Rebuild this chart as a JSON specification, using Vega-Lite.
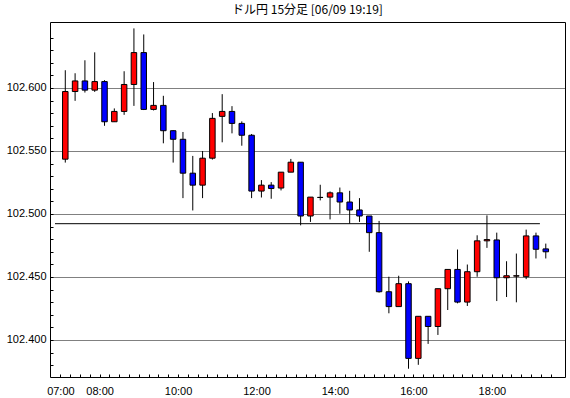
{
  "$schema": "https://vega.github.io/schema/vega-lite/v6.json",
  "width": 515,
  "height": 355,
  "autosize": "none",
  "padding": {"left": 50, "top": 22, "right": 5, "bottom": 21},
  "background": "white",
  "title": {"text": "ドル円 15分足 [06/09 19:19]", "font": "Noto Sans CJK JP", "fontSize": 12, "fontWeight": "normal", "color": "black", "anchor": "middle", "offset": 5},
  "config": {
    "view": {"stroke": "black", "strokeWidth": 1},
    "axis": {"labelFont": "Liberation Sans", "labelFontSize": 11, "labelColor": "black", "tickColor": "black", "domain": false}
  },
  "datasets": {
    "candles": [
      {"t": "2014-06-09T07:07:30", "o": 102.5435, "h": 102.6141, "l": 102.5408, "c": 102.5972},
      {"t": "2014-06-09T07:22:30", "o": 102.5972, "h": 102.6117, "l": 102.5898, "c": 102.6056},
      {"t": "2014-06-09T07:37:30", "o": 102.6056, "h": 102.6220, "l": 102.5964, "c": 102.5983},
      {"t": "2014-06-09T07:52:30", "o": 102.5983, "h": 102.6283, "l": 102.5969, "c": 102.6051},
      {"t": "2014-06-09T08:07:30", "o": 102.6051, "h": 102.6062, "l": 102.5700, "c": 102.5732},
      {"t": "2014-06-09T08:22:30", "o": 102.5732, "h": 102.5838, "l": 102.5732, "c": 102.5814},
      {"t": "2014-06-09T08:37:30", "o": 102.5814, "h": 102.6133, "l": 102.5787, "c": 102.6028},
      {"t": "2014-06-09T08:52:30", "o": 102.6028, "h": 102.6473, "l": 102.5858, "c": 102.6281},
      {"t": "2014-06-09T09:07:30", "o": 102.6281, "h": 102.6425, "l": 102.5825, "c": 102.5830},
      {"t": "2014-06-09T09:22:30", "o": 102.5830, "h": 102.6047, "l": 102.5822, "c": 102.5862},
      {"t": "2014-06-09T09:37:30", "o": 102.5862, "h": 102.5938, "l": 102.5561, "c": 102.5661},
      {"t": "2014-06-09T09:52:30", "o": 102.5661, "h": 102.5664, "l": 102.5408, "c": 102.5593},
      {"t": "2014-06-09T10:07:30", "o": 102.5593, "h": 102.5651, "l": 102.5126, "c": 102.5324},
      {"t": "2014-06-09T10:22:30", "o": 102.5324, "h": 102.5461, "l": 102.5028, "c": 102.5229},
      {"t": "2014-06-09T10:37:30", "o": 102.5229, "h": 102.5500, "l": 102.5126, "c": 102.5443},
      {"t": "2014-06-09T10:52:30", "o": 102.5443, "h": 102.5801, "l": 102.5432, "c": 102.5759},
      {"t": "2014-06-09T11:07:30", "o": 102.5775, "h": 102.5951, "l": 102.5569, "c": 102.5814},
      {"t": "2014-06-09T11:22:30", "o": 102.5814, "h": 102.5856, "l": 102.5640, "c": 102.5719},
      {"t": "2014-06-09T11:37:30", "o": 102.5719, "h": 102.5735, "l": 102.5542, "c": 102.5625},
      {"t": "2014-06-09T11:52:30", "o": 102.5625, "h": 102.5635, "l": 102.5126, "c": 102.5182},
      {"t": "2014-06-09T12:07:30", "o": 102.5182, "h": 102.5269, "l": 102.5131, "c": 102.5229},
      {"t": "2014-06-09T12:22:30", "o": 102.5229, "h": 102.5253, "l": 102.5121, "c": 102.5202},
      {"t": "2014-06-09T12:37:30", "o": 102.5206, "h": 102.5332, "l": 102.5187, "c": 102.5332},
      {"t": "2014-06-09T12:52:30", "o": 102.5332, "h": 102.5437, "l": 102.5332, "c": 102.5411},
      {"t": "2014-06-09T13:07:30", "o": 102.5411, "h": 102.5411, "l": 102.4910, "c": 102.4984},
      {"t": "2014-06-09T13:22:30", "o": 102.4984, "h": 102.5134, "l": 102.4937, "c": 102.5134},
      {"t": "2014-06-09T13:37:30", "o": 102.5131, "h": 102.5232, "l": 102.5108, "c": 102.5132},
      {"t": "2014-06-09T13:52:30", "o": 102.5134, "h": 102.5179, "l": 102.4957, "c": 102.5168},
      {"t": "2014-06-09T14:07:30", "o": 102.5168, "h": 102.5210, "l": 102.5002, "c": 102.5095},
      {"t": "2014-06-09T14:22:30", "o": 102.5095, "h": 102.5184, "l": 102.4923, "c": 102.5032},
      {"t": "2014-06-09T14:37:30", "o": 102.5032, "h": 102.5126, "l": 102.4937, "c": 102.4984},
      {"t": "2014-06-09T14:52:30", "o": 102.4984, "h": 102.4984, "l": 102.4700, "c": 102.4852},
      {"t": "2014-06-09T15:07:30", "o": 102.4852, "h": 102.4945, "l": 102.4376, "c": 102.4383},
      {"t": "2014-06-09T15:22:30", "o": 102.4383, "h": 102.4502, "l": 102.4212, "c": 102.4265},
      {"t": "2014-06-09T15:37:30", "o": 102.4265, "h": 102.4510, "l": 102.4265, "c": 102.4447},
      {"t": "2014-06-09T15:52:30", "o": 102.4447, "h": 102.4465, "l": 102.3772, "c": 102.3854},
      {"t": "2014-06-09T16:07:30", "o": 102.3854, "h": 102.4188, "l": 102.3803, "c": 102.4188},
      {"t": "2014-06-09T16:22:30", "o": 102.4188, "h": 102.4188, "l": 102.3969, "c": 102.4107},
      {"t": "2014-06-09T16:37:30", "o": 102.4107, "h": 102.4407, "l": 102.4040, "c": 102.4407},
      {"t": "2014-06-09T16:52:30", "o": 102.4407, "h": 102.4560, "l": 102.4238, "c": 102.4560},
      {"t": "2014-06-09T17:07:30", "o": 102.4560, "h": 102.4718, "l": 102.4291, "c": 102.4301},
      {"t": "2014-06-09T17:22:30", "o": 102.4301, "h": 102.4599, "l": 102.4270, "c": 102.4542},
      {"t": "2014-06-09T17:37:30", "o": 102.4542, "h": 102.4831, "l": 102.4502, "c": 102.4787},
      {"t": "2014-06-09T17:52:30", "o": 102.4787, "h": 102.4989, "l": 102.4731, "c": 102.4797},
      {"t": "2014-06-09T18:07:30", "o": 102.4794, "h": 102.4852, "l": 102.4309, "c": 102.4494},
      {"t": "2014-06-09T18:22:30", "o": 102.4494, "h": 102.4625, "l": 102.4341, "c": 102.4510},
      {"t": "2014-06-09T18:37:30", "o": 102.4507, "h": 102.4686, "l": 102.4299, "c": 102.4510},
      {"t": "2014-06-09T18:52:30", "o": 102.4502, "h": 102.4876, "l": 102.4483, "c": 102.4826},
      {"t": "2014-06-09T19:07:30", "o": 102.4826, "h": 102.4852, "l": 102.4647, "c": 102.4720},
      {"t": "2014-06-09T19:22:30", "o": 102.4723, "h": 102.4765, "l": 102.4647, "c": 102.4700}
    ],
    "level": [
      {"t": "2014-06-09T06:51:45", "t2": "2014-06-09T19:13:30", "v": 102.4923}
    ]
  },
  "layer": [
    {
      "data": {"name": "candles"},
      "mark": {"type": "rule", "color": "black", "strokeWidth": 1},
      "encoding": {
        "x": {
          "field": "t", "type": "temporal",
          "scale": {"domain": [{"year": 2014, "month": 6, "date": 9, "hours": 6, "minutes": 51, "seconds": 45}, {"year": 2014, "month": 6, "date": 9, "hours": 19, "minutes": 44, "seconds": 15}], "nice": false},
          "axis": {
            "orient": "bottom", "title": null, "grid": false,
            "format": "%H:%M",
            "values": [
              {"year": 2014, "month": 6, "date": 9, "hours": 7, "minutes": 0},
              {"year": 2014, "month": 6, "date": 9, "hours": 7, "minutes": 15},
              {"year": 2014, "month": 6, "date": 9, "hours": 7, "minutes": 30},
              {"year": 2014, "month": 6, "date": 9, "hours": 7, "minutes": 45},
              {"year": 2014, "month": 6, "date": 9, "hours": 8, "minutes": 0},
              {"year": 2014, "month": 6, "date": 9, "hours": 8, "minutes": 15},
              {"year": 2014, "month": 6, "date": 9, "hours": 8, "minutes": 30},
              {"year": 2014, "month": 6, "date": 9, "hours": 8, "minutes": 45},
              {"year": 2014, "month": 6, "date": 9, "hours": 9, "minutes": 0},
              {"year": 2014, "month": 6, "date": 9, "hours": 9, "minutes": 15},
              {"year": 2014, "month": 6, "date": 9, "hours": 9, "minutes": 30},
              {"year": 2014, "month": 6, "date": 9, "hours": 9, "minutes": 45},
              {"year": 2014, "month": 6, "date": 9, "hours": 10, "minutes": 0},
              {"year": 2014, "month": 6, "date": 9, "hours": 10, "minutes": 15},
              {"year": 2014, "month": 6, "date": 9, "hours": 10, "minutes": 30},
              {"year": 2014, "month": 6, "date": 9, "hours": 10, "minutes": 45},
              {"year": 2014, "month": 6, "date": 9, "hours": 11, "minutes": 0},
              {"year": 2014, "month": 6, "date": 9, "hours": 11, "minutes": 15},
              {"year": 2014, "month": 6, "date": 9, "hours": 11, "minutes": 30},
              {"year": 2014, "month": 6, "date": 9, "hours": 11, "minutes": 45},
              {"year": 2014, "month": 6, "date": 9, "hours": 12, "minutes": 0},
              {"year": 2014, "month": 6, "date": 9, "hours": 12, "minutes": 15},
              {"year": 2014, "month": 6, "date": 9, "hours": 12, "minutes": 30},
              {"year": 2014, "month": 6, "date": 9, "hours": 12, "minutes": 45},
              {"year": 2014, "month": 6, "date": 9, "hours": 13, "minutes": 0},
              {"year": 2014, "month": 6, "date": 9, "hours": 13, "minutes": 15},
              {"year": 2014, "month": 6, "date": 9, "hours": 13, "minutes": 30},
              {"year": 2014, "month": 6, "date": 9, "hours": 13, "minutes": 45},
              {"year": 2014, "month": 6, "date": 9, "hours": 14, "minutes": 0},
              {"year": 2014, "month": 6, "date": 9, "hours": 14, "minutes": 15},
              {"year": 2014, "month": 6, "date": 9, "hours": 14, "minutes": 30},
              {"year": 2014, "month": 6, "date": 9, "hours": 14, "minutes": 45},
              {"year": 2014, "month": 6, "date": 9, "hours": 15, "minutes": 0},
              {"year": 2014, "month": 6, "date": 9, "hours": 15, "minutes": 15},
              {"year": 2014, "month": 6, "date": 9, "hours": 15, "minutes": 30},
              {"year": 2014, "month": 6, "date": 9, "hours": 15, "minutes": 45},
              {"year": 2014, "month": 6, "date": 9, "hours": 16, "minutes": 0},
              {"year": 2014, "month": 6, "date": 9, "hours": 16, "minutes": 15},
              {"year": 2014, "month": 6, "date": 9, "hours": 16, "minutes": 30},
              {"year": 2014, "month": 6, "date": 9, "hours": 16, "minutes": 45},
              {"year": 2014, "month": 6, "date": 9, "hours": 17, "minutes": 0},
              {"year": 2014, "month": 6, "date": 9, "hours": 17, "minutes": 15},
              {"year": 2014, "month": 6, "date": 9, "hours": 17, "minutes": 30},
              {"year": 2014, "month": 6, "date": 9, "hours": 17, "minutes": 45},
              {"year": 2014, "month": 6, "date": 9, "hours": 18, "minutes": 0},
              {"year": 2014, "month": 6, "date": 9, "hours": 18, "minutes": 15},
              {"year": 2014, "month": 6, "date": 9, "hours": 18, "minutes": 30},
              {"year": 2014, "month": 6, "date": 9, "hours": 18, "minutes": 45},
              {"year": 2014, "month": 6, "date": 9, "hours": 19, "minutes": 0},
              {"year": 2014, "month": 6, "date": 9, "hours": 19, "minutes": 15},
              {"year": 2014, "month": 6, "date": 9, "hours": 19, "minutes": 30}
            ],
            "tickCount": 200,
            "labelExpr": "indexof(['07:00','08:00','10:00','12:00','14:00','16:00','18:00'], datum.label) >= 0 ? datum.label : ''",
            "labelOverlap": false,
            "tickSize": -3,
            "labelPadding": 11
          }
        },
        "y": {
          "field": "l", "type": "quantitative",
          "scale": {"domain": [102.37063, 102.65238], "nice": false, "zero": false},
          "axis": {
            "orient": "left", "title": null,
            "values": [102.38, 102.39, 102.40, 102.41, 102.42, 102.43, 102.44, 102.45, 102.46, 102.47, 102.48, 102.49, 102.50, 102.51, 102.52, 102.53, 102.54, 102.55, 102.56, 102.57, 102.58, 102.59, 102.60, 102.61, 102.62, 102.63, 102.64],
            "tickCount": 100,
            "labelExpr": "abs(datum.value * 20 - round(datum.value * 20)) < 0.001 ? format(datum.value, '.3f') : ''",
            "tickSize": -3,
            "labelPadding": 7,
            "labelOverlap": false,
            "grid": true,
            "gridColor": "black",
            "gridDash": [1, 1],
            "gridWidth": 1,
            "gridOpacity": {"condition": {"test": "abs(datum.value * 20 - round(datum.value * 20)) < 0.001", "value": 1}, "value": 0}
          }
        },
        "y2": {"field": "h"}
      }
    },
    {
      "data": {"name": "candles"},
      "mark": {"type": "bar", "width": 5.5, "stroke": "black", "strokeWidth": 1},
      "encoding": {
        "x": {"field": "t", "type": "temporal"},
        "y": {"field": "o", "type": "quantitative"},
        "y2": {"field": "c"},
        "color": {"condition": {"test": "datum.c >= datum.o", "value": "#ff0000"}, "value": "#0000ff"}
      }
    },
    {
      "data": {"name": "level"},
      "mark": {"type": "rule", "color": "black", "strokeWidth": 1},
      "encoding": {
        "x": {"field": "t", "type": "temporal"},
        "x2": {"field": "t2"},
        "y": {"field": "v", "type": "quantitative"}
      }
    }
  ]
}
